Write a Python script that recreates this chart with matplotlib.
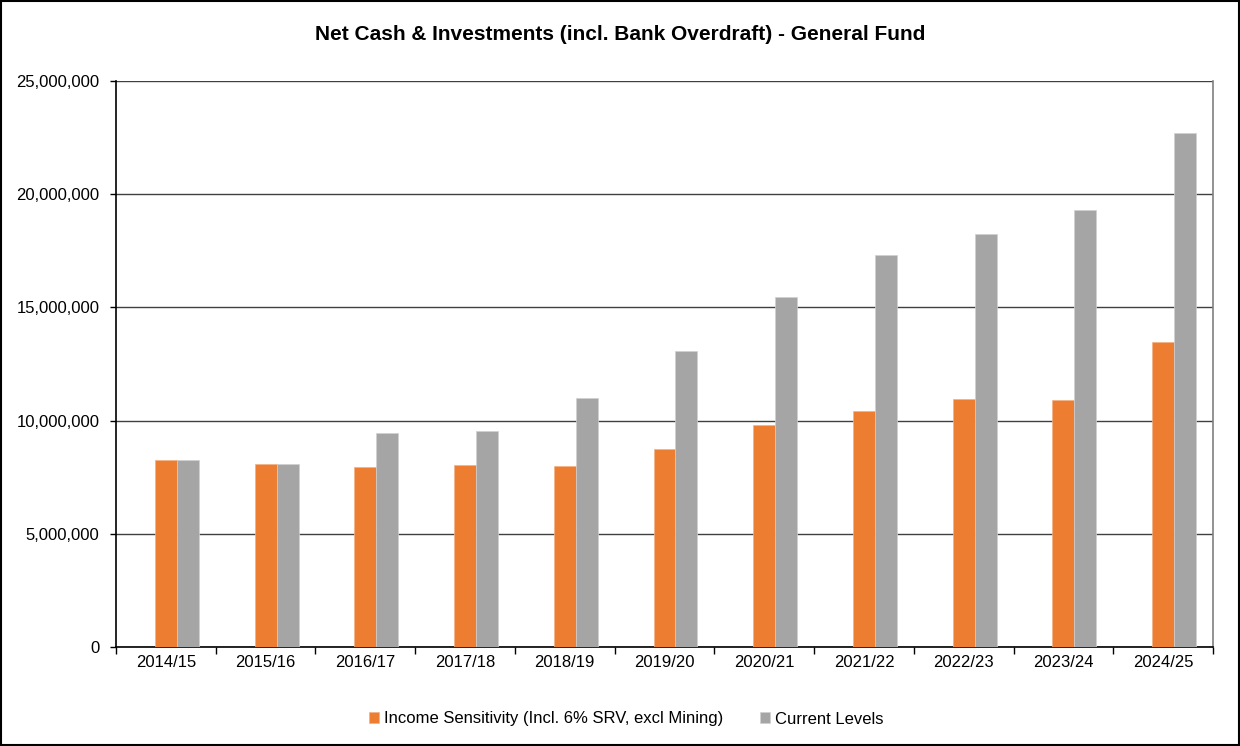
import numpy as np
import matplotlib.pyplot as plt
from matplotlib.ticker import FuncFormatter, MultipleLocator

plt.rcParams['font.family'] = ['Liberation Sans', 'DejaVu Sans']

years = ["2014/15", "2015/16", "2016/17", "2017/18", "2018/19", "2019/20",
         "2020/21", "2021/22", "2022/23", "2023/24", "2024/25"]
income_sensitivity = [8250000, 8100000, 7960000, 8050000, 8010000, 8730000,
                      9790000, 10420000, 10940000, 10900000, 13490000]
current_levels = [8250000, 8100000, 9440000, 9530000, 10980000, 13090000,
                  15440000, 17310000, 18260000, 19290000, 22700000]

fig = plt.figure(figsize=(12.4, 7.46), dpi=100)
ax = fig.add_axes([116 / 1240, 1 - 647 / 746, 1097 / 1240, 566 / 746])

x = np.arange(len(years))
w = 0.22
ax.bar(x, income_sensitivity, w, color='#ED7D31', edgecolor='#F4B183', linewidth=0.5,
       label='Income Sensitivity (Incl. 6% SRV, excl Mining)', zorder=3)
ax.bar(x + w, current_levels, w, color='#A5A5A5', edgecolor='#D0D0D0', linewidth=0.5,
       label='Current Levels', zorder=3)

ax.set_xlim(-0.5, len(years) - 0.5)
ax.set_ylim(0, 25000000)
ax.yaxis.set_major_locator(MultipleLocator(5000000))
ax.yaxis.set_major_formatter(FuncFormatter(lambda v, p: f"{int(v):,}"))
ax.grid(axis='y', color='#404040', linewidth=1, zorder=0)

ax.set_xticks(x)
ax.set_xticklabels(years)
ax.set_xticks(np.arange(-0.5, len(years)), minor=True)
ax.tick_params(axis='x', which='major', length=0, labelsize=12, pad=6)
ax.tick_params(axis='x', which='minor', length=5, width=1, color='black', direction='out')
ax.tick_params(axis='y', length=4, width=1, labelsize=12, pad=8, direction='out')

for side in ['left', 'bottom']:
    ax.spines[side].set_color('black')
    ax.spines[side].set_linewidth(1.2)
ax.spines['right'].set_color('#808080')
ax.spines['right'].set_linewidth(1.2)
ax.spines['top'].set_visible(False)

fig.suptitle("Net Cash & Investments (incl. Bank Overdraft) - General Fund",
             x=0.5, y=1 - 35 / 746, va='center', fontsize=15, fontweight='bold')

fig.legend(loc='center', bbox_to_anchor=(0.505, 1 - 719 / 746), ncol=2, frameon=False,
           fontsize=12, handlelength=0.6, handleheight=0.6, handletextpad=0.3,
           columnspacing=2.2)

fig.patches.append(plt.Rectangle((0.001, 0.001), 0.998, 0.998, transform=fig.transFigure,
                                 fill=False, edgecolor='black', linewidth=1.5))

fig.savefig("out.png", dpi=100)
